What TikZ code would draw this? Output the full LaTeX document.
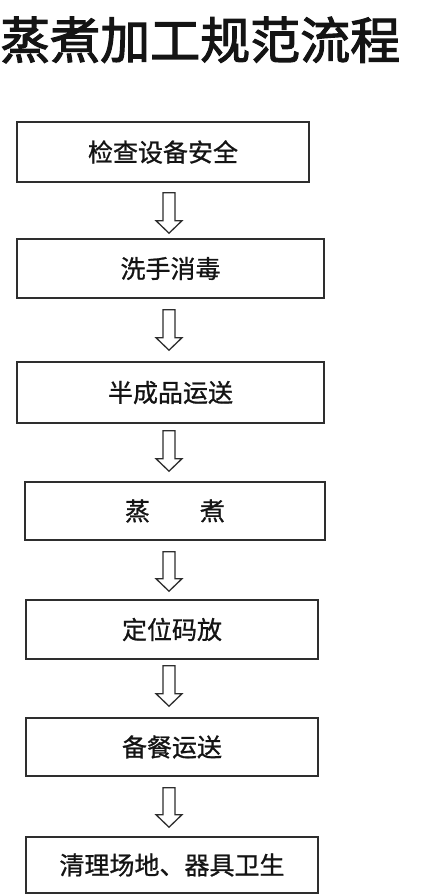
\documentclass[tikz,border=0pt]{standalone}
\usepackage{fontspec}
\newfontfamily\cjk[FakeBold=0.9]{Noto Sans CJK SC}
\newfontfamily\cjktitle[FakeBold=2.2]{Noto Sans CJK SC}
\usetikzlibrary{calc}
\definecolor{linegray}{HTML}{2E2E2E}
\definecolor{inkcol}{HTML}{141414}
\tikzset{
  stepbox/.style={draw=linegray, line width=1.6pt, inner sep=0pt, text=inkcol,
    font=\cjk\fontsize{25}{25}\selectfont},
  hollow/.style={draw=linegray, line width=1.3pt, fill=white, line join=miter,
    to path={let \p1=(\tikztostart), \p2=(\tikztotarget) in
      ({\x1-6pt},\y1) -- ({\x1-6pt},{\y2+12.5pt}) -- ({\x1-13pt},{\y2+12.5pt})
      -- (\x1,\y2) -- ({\x1+13pt},{\y2+12.5pt}) -- ({\x1+6pt},{\y2+12.5pt})
      -- ({\x1+6pt},\y1) -- cycle}},
  titlestyle/.style={anchor=west, inner sep=0pt, text=inkcol,
    font=\cjktitle\fontsize{50}{50}\selectfont}
}
\begin{document}
\begin{tikzpicture}[x=1pt,y=-1pt]
\fill[white] (0,0) rectangle (424,896);
\useasboundingbox (0,0) rectangle (424,896);
\node[titlestyle] (title) at (0,40) {蒸煮加工规范流程};
\coordinate (ax) at (169,0);
\node[stepbox, minimum width=292pt, minimum height=60pt] (b1) at (163,152) {检查设备安全};
\node[stepbox, minimum width=307pt, minimum height=59pt] (b2) at (170.5,268.5) {洗手消毒};
\node[stepbox, minimum width=307pt, minimum height=61pt] (b3) at (170.5,392.5) {半成品运送};
\node[stepbox, minimum width=300pt, minimum height=58pt] (b4) at (175,511) {蒸　　煮};
\node[stepbox, minimum width=292pt, minimum height=59pt] (b5) at (172,629.5) {定位码放};
\node[stepbox, minimum width=292pt, minimum height=58pt] (b6) at (172,747) {备餐运送};
\node[stepbox, minimum width=292pt, minimum height=56pt] (b7) at (172,865) {清理场地、器具卫生};
\draw[hollow] ($(b1.south -| ax)+(0,10)$) to ($(b2.north -| ax)+(0,-5)$);
\draw[hollow] ($(b2.south -| ax)+(0,11)$) to ($(b3.north -| ax)+(0,-11)$);
\draw[hollow] ($(b3.south -| ax)+(0,7)$) to ($(b4.north -| ax)+(0,-10)$);
\draw[hollow] ($(b4.south -| ax)+(0,11)$) to ($(b5.north -| ax)+(0,-8)$);
\draw[hollow] ($(b5.south -| ax)+(0,6)$) to ($(b6.north -| ax)+(0,-11)$);
\draw[hollow] ($(b6.south -| ax)+(0,11)$) to ($(b7.north -| ax)+(0,-9)$);
\end{tikzpicture}
\end{document}
